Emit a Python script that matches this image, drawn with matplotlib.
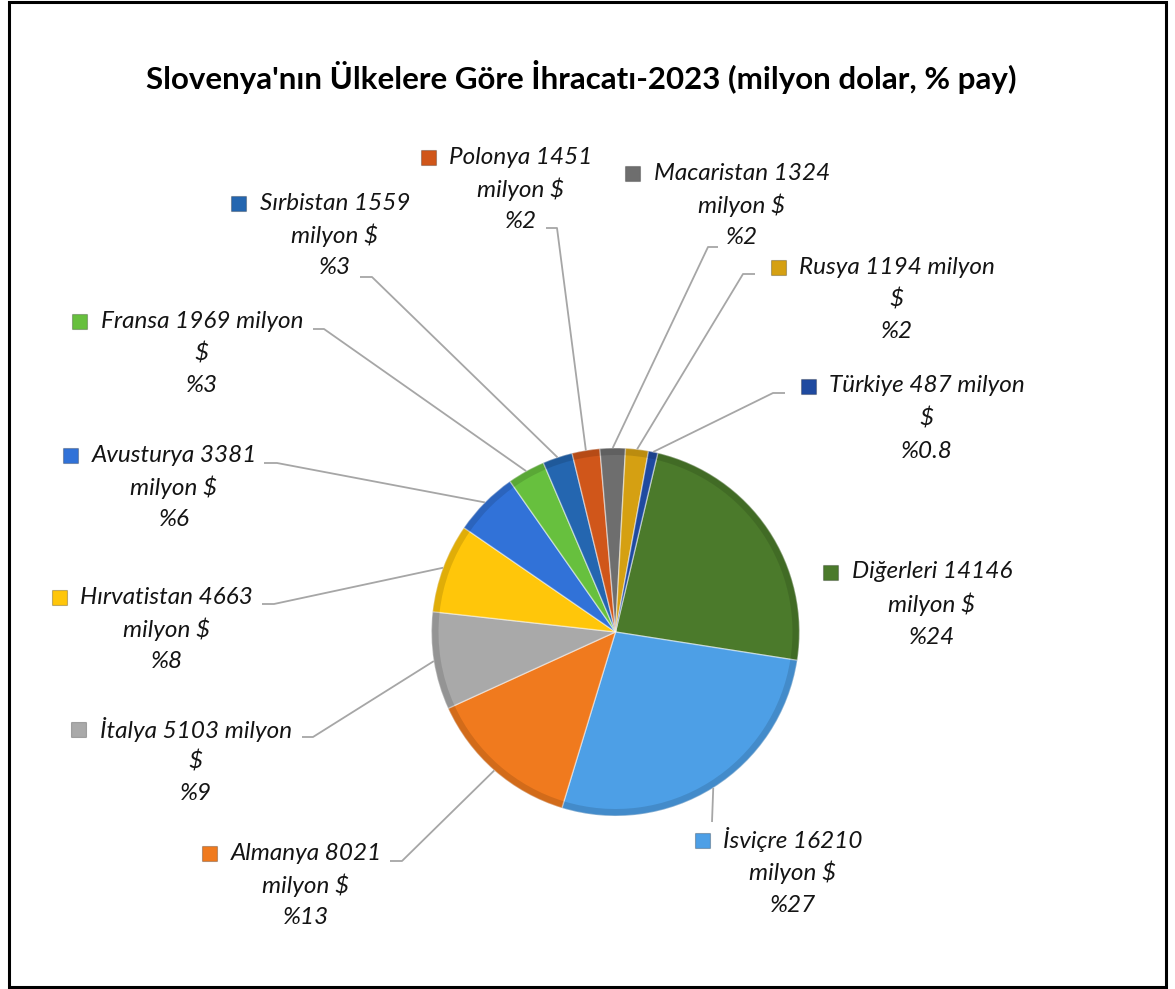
import numpy as np
import matplotlib.pyplot as plt
from matplotlib.patches import Rectangle, Wedge

# -------------------------
# data (clockwise from the top)
# -------------------------
countries = ["Diğerleri", "İsviçre", "Almanya", "İtalya", "Hırvatistan", "Avusturya",
             "Fransa", "Sırbistan", "Polonya", "Macaristan", "Rusya", "Türkiye"]
values = [14146, 16210, 8021, 5103, 4663, 3381, 1969, 1559, 1451, 1324, 1194, 487]
pct_labels = ["%24", "%27", "%13", "%9", "%8", "%6", "%3", "%3", "%2", "%2", "%2", "%0.8"]
title = "Slovenya'nın Ülkelere Göre İhracatı-2023 (milyon dolar, % pay)"

colors = ["#4b7a2b", "#4d9fe6", "#f07a1e", "#a9a9a9", "#ffc60a", "#3172d8",
          "#67c03e", "#2466b0", "#d0561a", "#6e6e6e", "#d5a012", "#1f4aa0"]

# -------------------------
# layout (image pixels, y from the top)
# -------------------------
W, H = 1175, 989
CX, CY, R = 615.5, 632, 184
START = 76.7

# wrap style: 'a' -> "name value" / "milyon $" / pct ; 'b' -> "name value milyon" / "$" / pct
wrap = ["a", "a", "a", "b", "a", "a", "b", "a", "a", "a", "b", "b"]
label_pos = [(932, 572), (793, 840), (306, 853), (196, 729), (166.5, 597), (174, 455),
             (202, 321), (335, 203), (521, 157), (742, 173), (897, 267), (927, 386)]
# leader line: (start, elbow) in pixels, None = no leader
leaders = [None, ((712, 822), (712, 822)), ((390, 861), (402, 861)), ((302, 737), (313, 737)),
           ((262, 604), (274, 604)), ((264, 463), (277, 463)), ((313, 329), (324, 329)),
           ((360, 277), (372, 277)), ((546, 228), (557, 228)), ((718, 247), (708, 247)),
           ((755, 274), (743, 274)), ((785, 393), (773, 393))]

LINE_H = 32.5
FONT = "Lato"


def fy(y):
    return H - y


fig = plt.figure(figsize=(W / 100, H / 100), dpi=100)
ax = fig.add_axes([0, 0, 1, 1])

wedges, _ = ax.pie(values, colors=colors, startangle=START, counterclock=False,
                   center=(CX, fy(CY)), radius=R, frame=True,
                   wedgeprops=dict(edgecolor=(1, 1, 1, 0.45), linewidth=1.0))
ax.set_xlim(0, W)
ax.set_ylim(0, H)
ax.set_aspect("equal")
ax.axis("off")

# subtle bevel: darker rim
for w in wedges:
    ax.add_patch(Wedge(w.center, w.r, w.theta1, w.theta2, width=7,
                       facecolor="black", alpha=0.12, edgecolor="none"))

# border
ax.add_patch(Rectangle((9, fy(987)), 1157, 985, fill=False, edgecolor="black",
                       linewidth=2.2, zorder=10))

ax.text(581, fy(77), title, ha="center", va="center", fontsize=22.5,
        fontweight="bold", family=[FONT, "DejaVu Sans"], color="black")

fig.canvas.draw()
renderer = fig.canvas.get_renderer()

for i, name in enumerate(countries):
    if wrap[i] == "a":
        lines = [f"{name} {values[i]}", "milyon $", pct_labels[i]]
    else:
        lines = [f"{name} {values[i]} milyon", "$", pct_labels[i]]
    cx, y0 = label_pos[i]
    first = None
    for k, s in enumerate(lines):
        t = ax.text(cx, fy(y0 + k * LINE_H), s, ha="center", va="center",
                    fontsize=17.5, style="italic", family=[FONT, "DejaVu Sans"],
                    color="#141414")
        if k == 0:
            first = t
    bb = first.get_window_extent(renderer)
    mx = bb.x0 - 21
    ax.add_patch(Rectangle((mx - 7.5, fy(y0) - 7.5), 15, 15, facecolor=colors[i],
                           edgecolor=(0, 0, 0, 0.25), linewidth=0.8, zorder=5))

    if leaders[i] is not None:
        (sx, sy), (ex, ey) = leaders[i]
        w = wedges[i]
        mid = np.deg2rad((w.theta1 + w.theta2) / 2)
        px = CX + R * np.cos(mid)
        py = fy(CY) + R * np.sin(mid)
        ax.plot([sx, ex, px], [fy(sy), fy(ey), py], color="#a6a6a6", lw=1.3,
                solid_capstyle="butt", zorder=1)

fig.savefig("out.png", dpi=100, facecolor="white")
